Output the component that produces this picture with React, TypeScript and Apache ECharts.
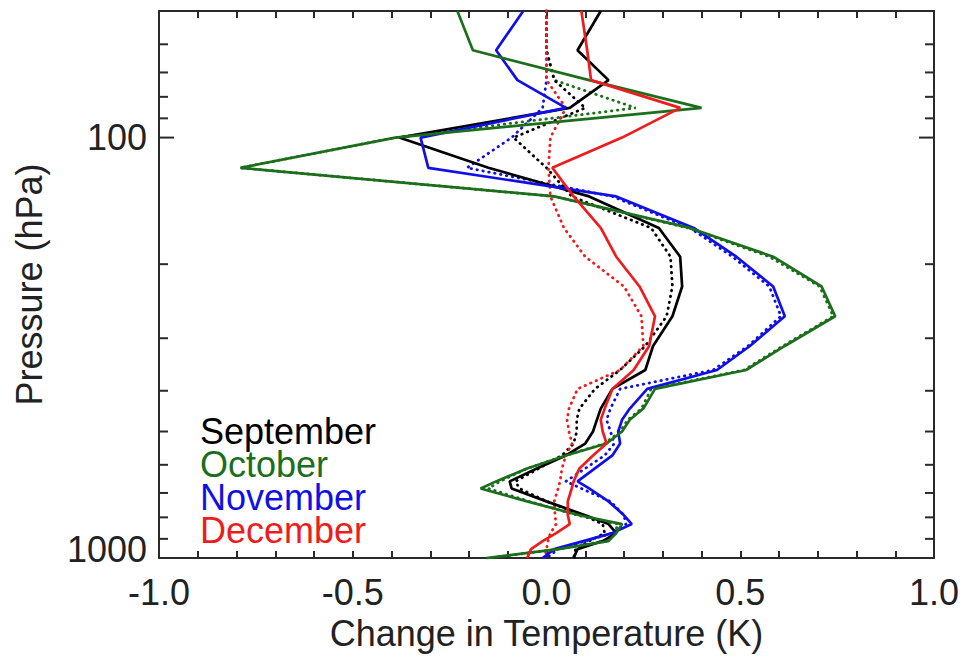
import React, { useEffect, useRef } from "react";
import * as echarts from "echarts";

// Pressure levels (hPa) shared by all profiles
const pressureLevels = [50, 62, 73, 85, 100, 118, 138, 164, 192, 226, 266, 313, 357, 396, 441, 469, 500, 534, 570, 612, 657, 683, 733, 791, 830, 872, 911, 952, 1000];

// Temperature change (K) — solid and dotted profiles per month
const septemberSolid = [0.14, 0.08, 0.16, 0.06, -0.38, -0.15, 0.11, 0.29, 0.345, 0.35, 0.325, 0.275, 0.255, 0.17, 0.14, 0.13, 0.12, 0.10, 0.05, -0.025, -0.095, -0.09, 0.0, 0.10, 0.16, 0.18, 0.145, 0.08, 0.07];
const septemberDotted = [0.0, 0.0, 0.02, 0.10, -0.085, 0.0, 0.065, 0.27, 0.32, 0.325, 0.31, 0.255, 0.19, 0.125, 0.085, 0.078, 0.078, 0.07, 0.04, -0.02, -0.08, -0.07, 0.0, 0.095, 0.145, 0.15, 0.11, 0.075, 0.07];
const octoberSolid = [-0.23, -0.19, 0.11, 0.40, -0.39, -0.79, 0.02, 0.37, 0.585, 0.71, 0.745, 0.615, 0.515, 0.28, 0.25, 0.215, 0.195, 0.155, 0.05, -0.05, -0.13, -0.17, -0.05, 0.085, 0.195, 0.18, 0.16, 0.03, -0.155];
const octoberDotted = [0.0, 0.0, 0.02, 0.23, -0.39, -0.79, 0.02, 0.365, 0.575, 0.705, 0.74, 0.61, 0.51, 0.27, 0.245, 0.21, 0.19, 0.15, 0.05, -0.05, -0.12, -0.15, -0.045, 0.08, 0.185, 0.175, 0.15, 0.03, -0.15];
const novemberSolid = [-0.06, -0.13, -0.075, 0.05, -0.325, -0.305, 0.18, 0.38, 0.49, 0.585, 0.615, 0.525, 0.44, 0.26, 0.215, 0.195, 0.185, 0.19, 0.17, 0.125, 0.08, 0.11, 0.16, 0.20, 0.22, 0.17, 0.095, 0.02, -0.01];
const novemberDotted = [0.0, 0.0, 0.0, -0.01, -0.09, -0.205, 0.17, 0.37, 0.48, 0.575, 0.605, 0.52, 0.43, 0.19, 0.165, 0.155, 0.165, 0.175, 0.15, 0.10, 0.05, 0.09, 0.165, 0.20, 0.205, 0.17, 0.10, 0.03, 0.0];
const decemberSolid = [0.09, 0.105, 0.115, 0.345, 0.195, 0.015, 0.07, 0.14, 0.18, 0.24, 0.28, 0.265, 0.225, 0.17, 0.15, 0.14, 0.145, 0.155, 0.12, 0.085, 0.07, 0.065, 0.055, 0.055, 0.06, 0.025, -0.01, -0.04, -0.05];
const decemberDotted = [0.0, 0.0, 0.0, 0.05, 0.01, 0.005, 0.01, 0.045, 0.1, 0.2, 0.245, 0.25, 0.19, 0.08, 0.058, 0.053, 0.058, 0.066, 0.05, 0.04, 0.035, 0.03, 0.02, 0.022, 0.025, 0.01, 0.004, 0.0, -0.005];

const months = ["September", "October", "November", "December"];
const monthColors = ["#000000", "#1b6e1b", "#1010e6", "#ee1c1c"];

// Axis ticks
const xMin = -1.0;
const xMax = 1.0;
const xLabelInterval = 0.5;
const yMin = 50;
const yMax = 1000;
const yTickValues = [60, 70, 80, 90, 100, 200, 300, 400, 500, 600, 700, 800, 900];
const yMajorTicks = [100];
const yLabelValues = [100, 1000];

export default function App() {
  const ref = useRef<HTMLDivElement>(null);

  useEffect(() => {
    if (!ref.current) return;
    const chart = echarts.init(ref.current, null, { renderer: "svg" });
    const font = "'Liberation Sans', Arial, Helvetica, sans-serif";
    const axisColor = "#2a2a2a";
    const textColor = "#222222";
    const fontSize = 36;

    const mk = (name: string, vals: number[], color: string, dotted: boolean, z: number) => ({
      name,
      type: "line",
      xAxisIndex: 0,
      yAxisIndex: 0,
      data: pressureLevels.map((p, i) => [vals[i], p]),
      showSymbol: false,
      symbol: "none",
      silent: true,
      z,
      lineStyle: dotted
        ? { color, width: 2.8, type: [0.5, 5.5], cap: "round" }
        : { color, width: 2.7 },
    });

    const xAxisCommon = {
      type: "value",
      min: xMin,
      max: xMax,
      interval: xLabelInterval,
      splitLine: { show: false },
      axisLine: { show: true, onZero: false, lineStyle: { color: axisColor, width: 2 } },
      axisTick: { show: true, inside: true, length: 7, lineStyle: { color: axisColor, width: 2 } },
      minorTick: { show: true, splitNumber: 5, length: 7, lineStyle: { color: axisColor, width: 2 } },
    };

    const yAxisCommon = {
      type: "log",
      logBase: 10,
      min: yMin,
      max: yMax,
      inverse: true,
      splitLine: { show: false },
      axisLine: { show: true, onZero: false, lineStyle: { color: axisColor, width: 2 } },
      axisTick: { show: false },
      axisLabel: { show: false },
    };

    const option: any = {
      animation: false,
      backgroundColor: "#ffffff",
      grid: { left: 159, right: 31, top: 11, bottom: 96, containLabel: false },
      legend: {
        orient: "vertical",
        left: 190,
        top: 408,
        icon: "none",
        itemWidth: 0,
        itemHeight: 0,
        itemGap: -3,
        selectedMode: false,
        padding: 5,
        textStyle: { fontSize, fontFamily: font, lineHeight: 33 },
        data: months.map((m, i) => ({ name: m, textStyle: { color: monthColors[i] } })),
      },
      xAxis: [
        {
          ...xAxisCommon,
          position: "bottom",
          name: "Change in Temperature (K)",
          nameLocation: "middle",
          nameGap: 49,
          nameTextStyle: { fontSize, fontFamily: font, color: textColor },
          axisLabel: {
            show: true,
            margin: 16,
            fontSize,
            fontFamily: font,
            color: textColor,
            formatter: (v: number) => v.toFixed(1),
          },
        },
        {
          ...xAxisCommon,
          position: "top",
          axisLabel: { show: false },
        },
      ],
      yAxis: [
        {
          ...yAxisCommon,
          position: "left",
          name: "Pressure (hPa)",
          nameLocation: "middle",
          nameGap: 112,
          nameRotate: 90,
          nameTextStyle: { fontSize, fontFamily: font, color: textColor },
        },
        { ...yAxisCommon, position: "right" },
      ],
      series: [
        mk("October (dotted)", octoberDotted, monthColors[1], true, 2),
        mk("November (dotted)", novemberDotted, monthColors[2], true, 2),
        mk("September (dotted)", septemberDotted, monthColors[0], true, 2),
        mk("December (dotted)", decemberDotted, monthColors[3], true, 3),
        mk("September", septemberSolid, monthColors[0], false, 4),
        mk("November", novemberSolid, monthColors[2], false, 4),
        mk("October", octoberSolid, monthColors[1], false, 5),
        mk("December", decemberSolid, monthColors[3], false, 6),
        {
          type: "custom",
          name: "yTicks",
          xAxisIndex: 0,
          yAxisIndex: 0,
          silent: true,
          clip: false,
          z: 10,
          encode: { x: 0, y: 1 },
          data: yTickValues.map((p) => [0, p]),
          renderItem: (_params: any, api: any) => {
            const p = api.value(1);
            const l = api.coord([xMin, p]);
            const r = api.coord([xMax, p]);
            const len = yMajorTicks.indexOf(p) >= 0 ? 15 : 9;
            const style = { stroke: axisColor, lineWidth: 2 };
            return {
              type: "group",
              children: [
                { type: "line", shape: { x1: l[0], y1: l[1], x2: l[0] + len, y2: l[1] }, style },
                { type: "line", shape: { x1: r[0] - len, y1: r[1], x2: r[0], y2: r[1] }, style },
              ],
            };
          },
        },
        {
          type: "custom",
          name: "yLabels",
          xAxisIndex: 0,
          yAxisIndex: 0,
          silent: true,
          clip: false,
          z: 10,
          encode: { x: 0, y: 1 },
          data: yLabelValues.map((p) => [0, p]),
          renderItem: (_params: any, api: any) => {
            const p = api.value(1);
            const l = api.coord([xMin, p]);
            const shift = p === yMax ? -9 : 0;
            return {
              type: "text",
              x: l[0] - 12,
              y: l[1] + shift,
              style: {
                text: String(p),
                fontSize,
                fontFamily: font,
                fill: textColor,
                align: "right",
                verticalAlign: "middle",
              },
            };
          },
        },
      ],
    };

    chart.setOption(option);
    return () => chart.dispose();
  }, []);

  return (
    <div
      ref={ref}
      style={{ width: 965, height: 656, position: "fixed", left: 0, top: 0, background: "#fff" }}
    />
  );
}
